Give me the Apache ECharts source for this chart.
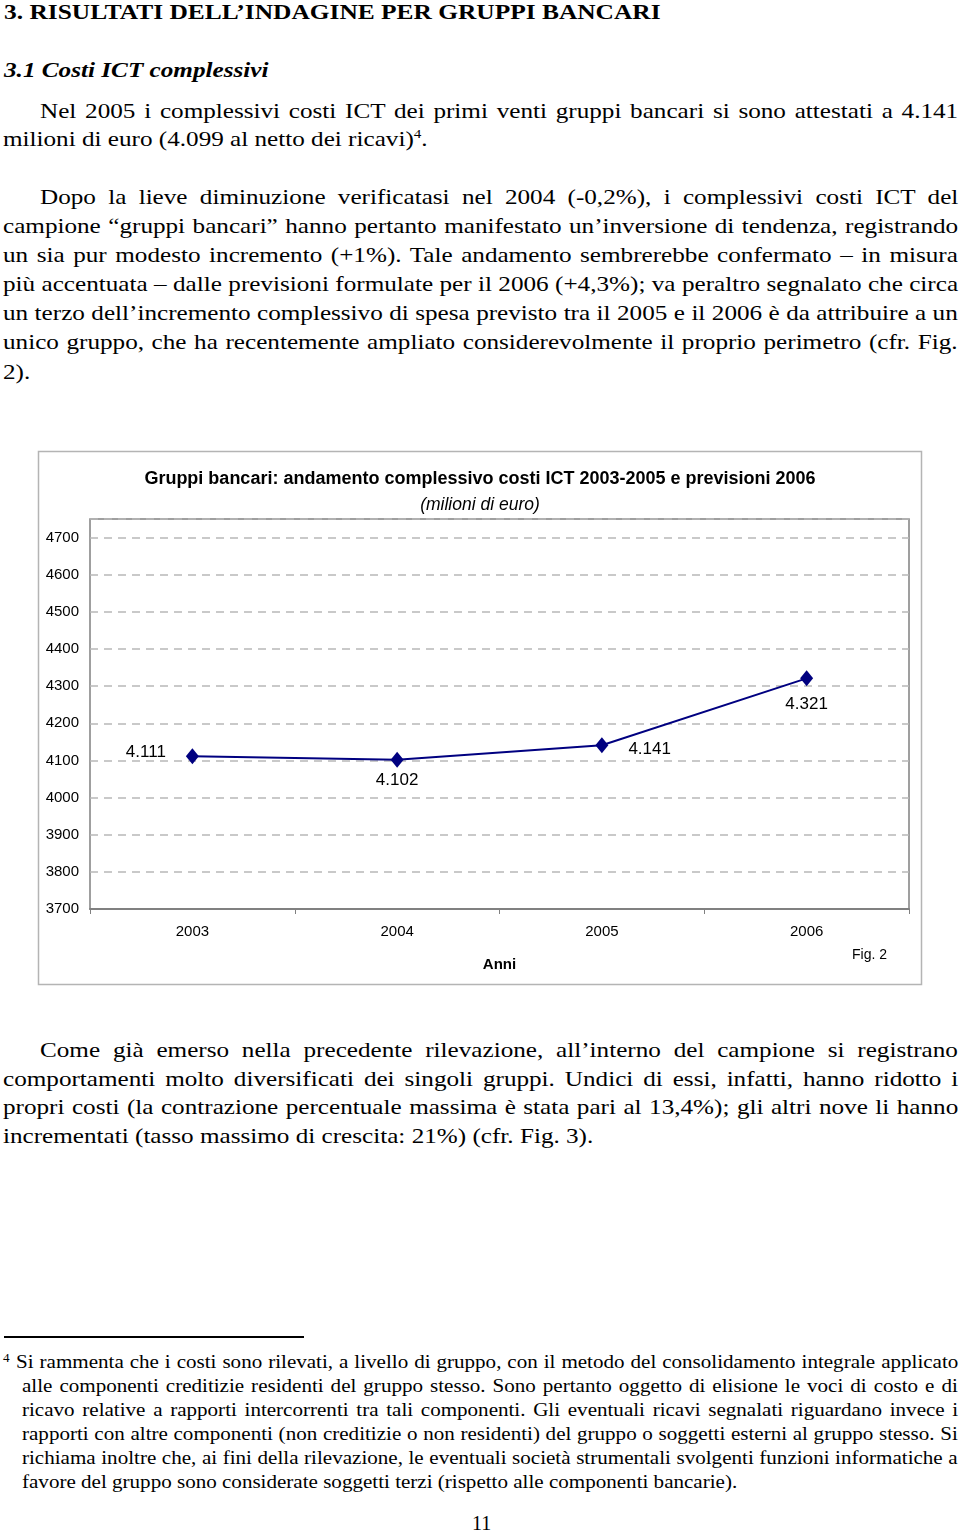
<!DOCTYPE html>
<html>
<head>
<meta charset="utf-8">
<script src="https://cdn.jsdelivr.net/npm/echarts@6/dist/echarts.min.js"></script>
<style>
html,body{margin:0;padding:0;background:#fff;}
body{width:960px;height:1533px;position:relative;overflow:hidden;font-family:"Liberation Serif","Times New Roman",serif;color:#000;}
.ln{position:absolute;white-space:nowrap;line-height:28px;font-size:21.5px;transform-origin:0 50%;}
.fn{position:absolute;white-space:nowrap;line-height:24px;font-size:18px;transform-origin:0 50%;}
sup{font-size:0.6em;vertical-align:0.6em;line-height:0;}
#chart{position:absolute;left:0;top:440px;width:960px;height:560px;}
</style>
</head>
<body>
<div class="ln s" data-s="1.155" style="left:4px;top:-2px;font-weight:bold;font-size:22px;">3. RISULTATI DELL’INDAGINE PER GRUPPI BANCARI</div>
<div class="ln s" data-s="1.145" style="left:4px;top:56px;font-weight:bold;font-style:italic;font-size:22px;">3.1 Costi ICT complessivi</div>

<div class="ln j" data-l="40" data-r="958" style="top:97px;">Nel 2005 i complessivi costi ICT dei primi venti gruppi bancari si sono attestati a 4.141</div>
<div class="ln s" style="left:3px;top:125px;">milioni di euro (4.099 al netto dei ricavi)<sup>4</sup>.</div>

<div class="ln j" data-l="40" data-r="958" style="top:183px;">Dopo la lieve diminuzione verificatasi nel 2004 (-0,2%), i complessivi costi ICT del</div>
<div class="ln j" data-l="3" data-r="958" style="top:212px;">campione “gruppi bancari” hanno pertanto manifestato un’inversione di tendenza, registrando</div>
<div class="ln j" data-l="3" data-r="958" style="top:241px;">un sia pur modesto incremento (+1%). Tale andamento sembrerebbe confermato – in misura</div>
<div class="ln j" data-l="3" data-r="958" style="top:270px;">più accentuata – dalle previsioni formulate per il 2006 (+4,3%); va peraltro segnalato che circa</div>
<div class="ln j" data-l="3" data-r="958" style="top:299px;">un terzo dell’incremento complessivo di spesa previsto tra il 2005 e il 2006 è da attribuire a un</div>
<div class="ln j" data-l="3" data-r="958" style="top:328px;">unico gruppo, che ha recentemente ampliato considerevolmente il proprio perimetro (cfr. Fig.</div>
<div class="ln s" style="left:3px;top:358px;">2).</div>

<div id="chart"></div>

<div class="ln j" data-l="40" data-r="958" style="top:1036px;">Come già emerso nella precedente rilevazione, all’interno del campione si registrano</div>
<div class="ln j" data-l="3" data-r="958" style="top:1065px;">comportamenti molto diversificati dei singoli gruppi. Undici di essi, infatti, hanno ridotto i</div>
<div class="ln j" data-l="3" data-r="958" style="top:1093px;">propri costi (la contrazione percentuale massima è stata pari al 13,4%); gli altri nove li hanno</div>
<div class="ln s" style="left:3px;top:1122px;">incrementati (tasso massimo di crescita: 21%) (cfr. Fig. 3).</div>

<div style="position:absolute;left:4px;top:1336px;width:300px;height:1.5px;background:#000;"></div>
<div class="fn" style="left:3px;top:1351px;font-size:22px;"><sup>4</sup></div>
<div class="fn j" data-l="16" data-r="958" style="top:1350px;">Si rammenta che i costi sono rilevati, a livello di gruppo, con il metodo del consolidamento integrale applicato</div>
<div class="fn j" data-l="22" data-r="958" style="top:1374px;">alle componenti creditizie residenti del gruppo stesso. Sono pertanto oggetto di elisione le voci di costo e di</div>
<div class="fn j" data-l="22" data-r="958" style="top:1398px;">ricavo relative a rapporti intercorrenti tra tali componenti. Gli eventuali ricavi segnalati riguardano invece i</div>
<div class="fn j" data-l="22" data-r="958" style="top:1422px;">rapporti con altre componenti (non creditizie o non residenti) del gruppo o soggetti esterni al gruppo stesso. Si</div>
<div class="fn j" data-l="22" data-r="958" style="top:1446px;">richiama inoltre che, ai fini della rilevazione, le eventuali società strumentali svolgenti funzioni informatiche a</div>
<div class="fn s" style="left:22px;top:1470px;">favore del gruppo sono considerate soggetti terzi (rispetto alle componenti bancarie).</div>

<div class="ln" style="left:472px;top:1509px;font-size:20px;">11</div>

<script>
// ---- data ----
const years = ['2003', '2004', '2005', '2006'];
const costs = [4111, 4102, 4141, 4321];
const yTickMin = 3700;
const yTickMax = 4750;
const yTickStep = 100;
const chartTitle = 'Gruppi bancari: andamento complessivo costi ICT 2003-2005 e previsioni 2006';
const chartSubtitle = '(milioni di euro)';
const xName = 'Anni';
const figLabel = 'Fig. 2';
const labelPositions = ['left', 'bottom', 'right', 'bottom'];

// ---- text: horizontal stretch + justification ----
const SX = 1.17;
document.querySelectorAll('.s').forEach(function (el) {
  const s = el.dataset.s ? +el.dataset.s : SX;
  el.style.transform = 'scaleX(' + s + ')';
});
document.querySelectorAll('.j').forEach(function (el) {
  const l = +el.dataset.l, r = +el.dataset.r;
  el.style.left = l + 'px';
  const target = (r - l) / SX;
  const natural = el.offsetWidth;
  const spaces = (el.textContent.match(/ /g) || []).length;
  if (spaces > 0) el.style.wordSpacing = ((target - natural) / spaces) + 'px';
  el.style.transform = 'scaleX(' + SX + ')';
});

// ---- chart ----
const fmt = v => String(v).replace(/(\d)(?=(\d{3})+$)/, '$1.');
const sans = '"Liberation Sans", Arial, sans-serif';
const chart = echarts.init(document.getElementById('chart'), null, {renderer: 'canvas'});
chart.setOption({
  animation: false,
  title: [
    {text: chartTitle, left: 'center', top: 25,
     textStyle: {fontFamily: sans, fontSize: 18, fontWeight: 'bold', color: '#000'}},
    {text: chartSubtitle, left: 'center', top: 51,
     textStyle: {fontFamily: sans, fontSize: 17.5, fontStyle: 'italic', fontWeight: 'normal', color: '#000'}}
  ],
  graphic: [
    {type: 'rect', shape: {x: 38.5, y: 11.5, width: 883, height: 533},
     style: {fill: 'none', stroke: '#b4b4b4', lineWidth: 1.5}, z: -1},
    {type: 'text', left: 852, top: 508,
     style: {text: figLabel, font: '14px ' + sans, fill: '#000'}}
  ],
  grid: {left: 90, right: 51, top: 79, bottom: 91, show: true,
         borderColor: '#808080', borderWidth: 1.5, backgroundColor: '#fff'},
  xAxis: {
    type: 'category', data: years, boundaryGap: true,
    name: xName, nameLocation: 'middle', nameGap: 48,
    nameTextStyle: {fontFamily: sans, fontSize: 15, fontWeight: 'bold', color: '#000'},
    axisLine: {lineStyle: {color: '#808080', width: 2}},
    axisTick: {show: true, length: 5, lineStyle: {color: '#808080'}},
    axisLabel: {fontFamily: sans, fontSize: 15, color: '#000', margin: 15}
  },
  yAxis: {
    type: 'value', min: yTickMin, max: yTickMax, interval: yTickStep,
    axisLine: {show: false}, axisTick: {show: false},
    axisLabel: {fontFamily: sans, fontSize: 15, color: '#000', margin: 11,
                formatter: v => (v % 100 === 0 ? String(v) : '')},
    splitLine: {lineStyle: {color: '#b8b8b8', type: [8, 6], width: 1.5}}
  },
  series: [{
    type: 'line',
    data: costs.map((v, i) => {
      const p = labelPositions[i];
      return {
        value: v,
        label: {position: p,
                distance: (p === 'bottom' ? (i === 3 ? 9 : 4) : 20),
                offset: (p === 'left' ? [0, -4] : p === 'right' ? [0, 4] : [0, 0])}
      };
    }),
    symbol: 'diamond', symbolSize: [13, 16],
    itemStyle: {color: '#000080'},
    lineStyle: {color: '#000080', width: 2},
    label: {show: true, formatter: p => fmt(p.value),
            fontFamily: sans, fontSize: 17, color: '#000'}
  }]
});
</script>
</body>
</html>
